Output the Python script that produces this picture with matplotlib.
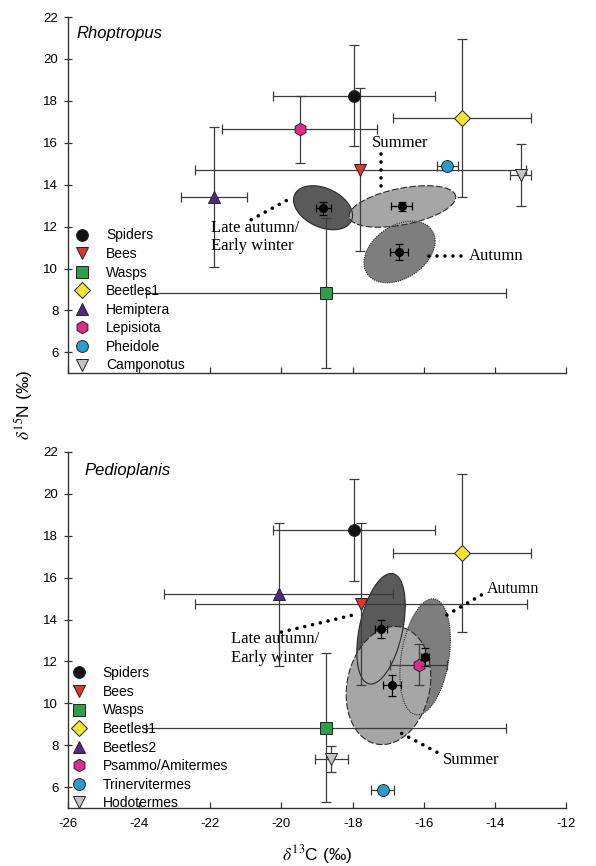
import numpy as np
import matplotlib
matplotlib.use('Agg')
import matplotlib.pyplot as plt
from matplotlib.lines import Line2D

plt.rcParams['font.family'] = ['Liberation Sans', 'DejaVu Sans']
plt.rcParams['mathtext.fontset'] = 'stix'
plt.rcParams['axes.unicode_minus'] = False

# ---------------- data ----------------
top_taxa = ['Spiders', 'Bees', 'Wasps', 'Beetles1', 'Hemiptera', 'Lepisiota', 'Pheidole', 'Camponotus']
top_x = [-17.95, -17.78, -18.75, -14.92, -21.89, -19.49, -15.34, -13.27]
top_xerr = [2.28, 4.66, 5.05, 1.93, 0.92, 2.19, 0.29, 0.30]
top_y = [18.25, 14.72, 8.84, 17.17, 13.40, 16.65, 14.90, 14.46]
top_yerr = [2.42, 3.87, 3.57, 3.77, 3.33, 1.60, 0.0, 1.50]

bot_taxa = ['Spiders', 'Bees', 'Wasps', 'Beetles1', 'Beetles2', 'Psammo/Amitermes', 'Trinervitermes', 'Hodotermes']
bot_x = [-17.95, -17.77, -18.75, -14.92, -20.08, -16.14, -17.15, -18.60]
bot_xerr = [2.28, 4.66, 5.05, 1.93, 3.21, 0.80, 0.32, 0.47]
bot_y = [18.28, 14.75, 8.84, 17.19, 15.20, 11.85, 5.84, 7.33]
bot_yerr = [2.42, 3.88, 3.55, 3.78, 3.40, 0.97, 0.0, 0.62]

seasons = ['Late autumn/Early winter', 'Summer', 'Autumn']
top_liz_x = [-18.82, -16.62, -16.69]
top_liz_y = [12.87, 12.97, 10.78]
top_liz_xerr = [0.22, 0.30, 0.25]
top_liz_yerr = [0.30, 0.22, 0.37]
bot_liz_x = [-17.20, -16.90, -15.96]
bot_liz_y = [13.56, 10.86, 12.21]
bot_liz_xerr = [0.16, 0.25, 0.12]
bot_liz_yerr = [0.44, 0.50, 0.43]

# standard ellipses: centre, sd x, sd y, correlation
top_ell_cx = [-18.83, -16.60, -16.68]
top_ell_cy = [12.90, 12.96, 10.79]
top_ell_sx = [0.83, 1.50, 1.00]
top_ell_sy = [1.05, 0.99, 1.47]
top_ell_r = [-0.35, 0.45, 0.35]
bot_ell_cx = [-17.20, -16.99, -15.96]
bot_ell_cy = [13.56, 10.85, 12.22]
bot_ell_sx = [0.68, 1.19, 0.71]
bot_ell_sy = [2.64, 2.82, 2.77]
bot_ell_r = [0.42, 0.15, 0.30]

# ---------------- styles ----------------
top_markers = ['o', 'v', 's', 'D', '^', 'h', 'o', 'v']
colors = ['#111111', '#e3342b', '#2e9e48', '#f3e62c', '#4a2a8a', '#e02a8c', '#2b9bd3', '#c4c4c4']
msizes = [8.5, 8.5, 8, 8, 8.5, 9, 8.5, 8.5]
ell_fill = ['#5a5a5a', '#a6a6a6', '#7e7e7e']
ell_ls = ['-', (0, (6, 2)), (0, (1, 1))]
ell_order = [0, 2, 1]
ebar_col = '#3c3c3c'

fig = plt.figure(figsize=(5.96, 8.66), dpi=100)
L, R = 68 / 596, 566 / 596
ax1 = fig.add_axes([L, 1 - 373.3 / 866, R - L, (373.3 - 17) / 866])
ax2 = fig.add_axes([L, 1 - 808 / 866, R - L, (808 - 452) / 866])


def draw_panel(ax, taxa, x, xerr, y, yerr, lx, ly, lxe, lye, ecx, ecy, esx, esy, er, anchor):
    t = np.linspace(0, 2 * np.pi, 300)
    for i in ell_order:
        ex = ecx[i] + esx[i] * np.cos(t)
        ey = ecy[i] + esy[i] * (er[i] * np.cos(t) + np.sqrt(1 - er[i] ** 2) * np.sin(t))
        ax.fill(ex, ey, color=ell_fill[i], lw=0, zorder=1)
    for i in ell_order:
        ex = ecx[i] + esx[i] * np.cos(t)
        ey = ecy[i] + esy[i] * (er[i] * np.cos(t) + np.sqrt(1 - er[i] ** 2) * np.sin(t))
        ax.plot(ex, ey, color='#2a2a2a', ls=ell_ls[i], lw=0.8, zorder=1.5)
    handles = []
    for i, name in enumerate(taxa):
        ye = yerr[i] if yerr[i] > 0 else None
        ax.errorbar(x[i], y[i], xerr=xerr[i], yerr=ye, fmt='none', ecolor=ebar_col,
                    elinewidth=0.9, capsize=3.5, capthick=0.9, zorder=2)
        ax.plot(x[i], y[i], marker=top_markers[i], ms=msizes[i], color=colors[i],
                mec='#222222', mew=0.7, ls='none', zorder=3)
        handles.append(Line2D([], [], marker=top_markers[i], ms=msizes[i], color=colors[i],
                              mec='#222222', mew=0.7, ls='none', label=name))
    ax.errorbar(lx, ly, xerr=lxe, yerr=lye, fmt='o', ms=5.5, color='black',
                ecolor='black', elinewidth=0.9, capsize=3, capthick=0.9, zorder=4)
    ax.set_xlim(-26, -12)
    ax.set_ylim(5, 22)
    ax.set_xticks(np.arange(-26, -11, 2))
    ax.set_yticks(np.arange(6, 23, 2))
    for s in ['top', 'right']:
        ax.spines[s].set_visible(False)
    for s in ['left', 'bottom']:
        ax.spines[s].set_color('#333333')
        ax.spines[s].set_linewidth(1.0)
    ax.tick_params(axis='x', direction='in', length=4, width=0.9, color='#333333',
                   labelsize=9.5, pad=7)
    ax.tick_params(axis='y', direction='inout', length=6, width=0.9, color='#333333',
                   labelsize=9.5, pad=4)
    ax.legend(handles=handles, loc='lower left', bbox_to_anchor=anchor, frameon=False,
              fontsize=10, handlelength=1.2, handletextpad=1.12, labelspacing=0.33,
              borderaxespad=0.2)


draw_panel(ax1, top_taxa, top_x, top_xerr, top_y, top_yerr, top_liz_x, top_liz_y,
           top_liz_xerr, top_liz_yerr, top_ell_cx, top_ell_cy, top_ell_sx, top_ell_sy, top_ell_r,
           (-0.005, -0.021))
draw_panel(ax2, bot_taxa, bot_x, bot_xerr, bot_y, bot_yerr, bot_liz_x, bot_liz_y,
           bot_liz_xerr, bot_liz_yerr, bot_ell_cx, bot_ell_cy, bot_ell_sx, bot_ell_sy, bot_ell_r,
           (-0.012, -0.03))
ax1.tick_params(axis='x', labelbottom=False)

serif = ['Liberation Serif', 'DejaVu Serif']
dot = dict(color='black', lw=2.6, ls=(0, (0.01, 2.2)), dash_capstyle='round', zorder=5)

# top annotations
ax1.text(-25.75, 21.2, 'Rhoptropus', style='italic', fontsize=12, va='center')
ax1.text(-17.47, 16.0, 'Summer', family=serif, fontsize=12, va='center')
ax1.plot([-17.2, -17.2], [15.45, 13.65], **dot)
ax1.text(-21.98, 11.5, 'Late autumn/\nEarly winter', family=serif, fontsize=12, va='center',
         linespacing=1.2)
ax1.plot([-20.85, -19.8], [12.33, 13.3], **dot)
ax1.text(-14.74, 10.59, 'Autumn', family=serif, fontsize=12, va='center')
ax1.plot([-15.85, -14.8], [10.59, 10.59], **dot)

# bottom annotations
ax2.text(-25.55, 21.1, 'Pedioplanis', style='italic', fontsize=12, va='center')
ax2.text(-14.23, 15.45, 'Autumn', family=serif, fontsize=11.5, va='center')
ax2.plot([-15.35, -14.35], [14.22, 15.2], **dot)
ax2.text(-21.43, 12.62, 'Late autumn/\nEarly winter', family=serif, fontsize=12, va='center',
         linespacing=1.2)
ax2.plot([-20.0, -17.9], [13.40, 14.25], **dot)
ax2.text(-15.47, 7.29, 'Summer', family=serif, fontsize=12, va='center')
ax2.plot([-16.62, -15.58], [8.56, 7.62], **dot)

fig.text(0.04, 0.532, r'$\delta^{15}$N (‰)', rotation=90, ha='center', va='center', fontsize=12.5)
fig.text(0.532, 0.013, r'$\delta^{13}$C (‰)', ha='center', va='center', fontsize=12.5)

fig.savefig('out.png', dpi=100)
